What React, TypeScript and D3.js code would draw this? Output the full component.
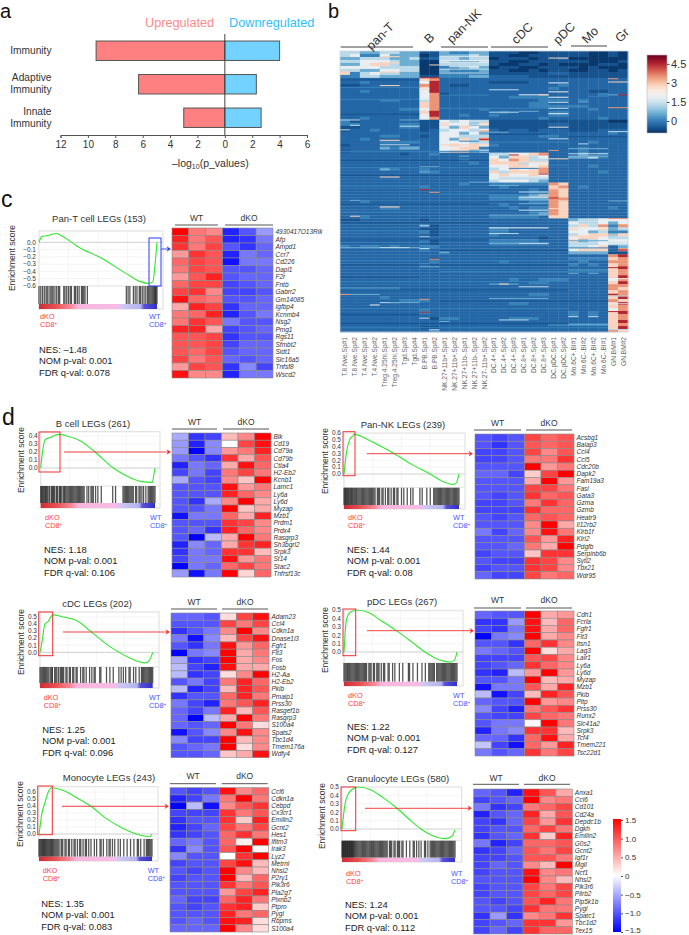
import React, { useEffect, useRef } from 'react';
import * as d3 from 'd3';

const FONT = '"Liberation Sans", Arial, sans-serif';

// panel a
const immunityLabels = [['Immunity'], ['Adaptive', 'Immunity'], ['Innate', 'Immunity']];
const upregulated = [9.4, 6.3, 3.0];
const downregulated = [4.0, 2.3, 2.65];
const pValueTicks = [12, 10, 8, 6, 4, 2, 0, -2, -4, -6];

// panel b
const sampleLabels = [
  'T.8.Nve.Sp#1', 'T.8.Nve.Sp#2', 'T.4.Nve.Sp#1', 'T.4.Nve.Sp#2', 'Treg.4.25hi.Sp#1', 'Treg.4.25hi.Sp#2', 'Tgd.Sp#3', 'Tgd.Sp#4',
  'B.PB.Sp#1', 'B.PB.Sp#2',
  'NK.27+11b+.Sp#1', 'NK.27+11b+.Sp#2', 'NK.27+11b-.Sp#1', 'NK.27+11b-.Sp#2', 'NK.27-11b+.Sp#2',
  'DC.4+.Sp#1', 'DC.4+.Sp#2', 'DC.4+.Sp#3', 'DC.8+.Sp#1', 'DC.8+.Sp#2', 'DC.8+.Sp#3',
  'DC.pDC.Sp#1', 'DC.pDC.Sp#2',
  'Mo.6C+.BI#1', 'Mo.6C-.BI#2', 'Mo.6C+.BI#2', 'Mo.6C-.BI#1',
  'GN.BM#1', 'GN.BM#2',
];
// one character per cell, index into expressionLevels
const expressionLevels = [-0.85, -0.55, -0.3, 0.05, 0.6, 1.3, 1.9, 2.8, 3.5, 4.5];
const expressionRows = [
  '55445544 11 43344 111001 11 1100 10',
  '56336444 01 44454 110011 11 1100 10',
  '44555445 12 55455 011101 12 0000 00',
  '55666544 00 54445 110011 11 1100 01',
  '44677544 00 55555 100110 10 0001 10',
  '66665555 00 33454 011001 11 1010 00',
  '55446655 00 43334 110010 11 0011 01',
  '73565544 00 33333 111111 22 1111 11',
  '33554444 11 33344 222211 11 1111 11',
  '22222222 78 22222 222222 22 2222 22',
  '22322222 69 22222 111122 22 2222 22',
  '11222222 89 21122 222222 23 2222 22',
  '22222222 79 22222 222222 32 2222 22',
  '22322222 69 22222 222222 22 2211 22',
  '22222222 68 12222 222222 22 2223 22',
  '22222222 68 22222 223333 22 2222 22',
  '22223322 58 22222 222223 33 2322 22',
  '22222222 78 22222 222233 22 2222 22',
  '22222222 78 22222 222233 33 3322 22',
  '22222233 68 22223 222222 22 2232 22',
  '22222222 79 22222 232222 33 2222 22',
  '22222222 69 22322 322222 33 2222 22',
  '22322222 68 22222 222223 22 2223 22',
  '31222222 11 65655 111111 11 1111 00',
  '33222233 11 76647 111111 22 1111 11',
  '11222233 11 64764 111111 11 1111 11',
  '12232222 12 56656 212212 22 1112 22',
  '22222222 22 66464 222222 22 2222 32',
  '22223322 12 66555 222223 32 2222 22',
  '22322222 22 64758 222222 22 2222 22',
  '22223333 22 66655 222222 22 2232 22',
  '12222222 22 67676 322222 22 2222 22',
  '22224344 22 66773 222222 22 2322 22',
  '12222222 22 67745 222222 22 2322 22',
  '22222212 23 22222 556678 22 2423 22',
  '22222222 22 22222 647756 22 4453 22',
  '22222222 22 22322 768755 22 2222 22',
  '22222222 22 22232 777566 22 2222 22',
  '22222222 11 22222 667767 22 2232 22',
  '22224322 32 22222 567678 22 2222 22',
  '22222222 33 22222 757778 22 2223 22',
  '22222222 22 22222 676676 22 2222 22',
  '22222222 22 22222 655555 22 2222 22',
  '22222222 22 22222 566654 22 2222 22',
  '22222222 22 22322 333333 87 2222 22',
  '22222222 32 22222 232222 78 2322 22',
  '22222222 22 22222 222232 87 2222 22',
  '22222222 22 22222 222233 87 2222 22',
  '22222222 22 22222 333344 87 2222 22',
  '22222222 22 22222 333444 88 2222 22',
  '22322222 22 22222 222233 87 2222 22',
  '22222222 22 22222 232222 87 2222 22',
  '22223322 22 22222 223233 87 2222 32',
  '22222222 22 22222 222233 87 2222 22',
  '22222222 22 22222 222234 87 2222 22',
  '22322222 22 22222 333332 77 2222 22',
  '11222222 12 22222 222222 22 4556 66',
  '22222222 22 22222 222222 22 6556 46',
  '22222222 31 22222 222222 22 5758 38',
  '22222222 11 22222 332222 22 7667 45',
  '22222222 31 22222 332222 22 6645 33',
  '22222222 21 22222 322222 22 5677 47',
  '22222222 12 22222 222221 22 6776 55',
  '22222222 31 22222 333332 22 7456 66',
  '22222222 21 22222 333333 22 5556 55',
  '32332322 33 22222 222222 22 5567 24',
  '22222222 32 22222 222222 22 6777 28',
  '22222222 22 32222 222222 22 4444 11',
  '22222222 22 22222 222222 22 2222 89',
  '22222222 21 22222 222222 22 3333 78',
  '22222222 23 22222 232222 22 2322 88',
  '22222222 32 22222 222222 22 3232 78',
  '22222222 22 22222 222222 22 2222 79',
  '22222222 22 22222 222222 22 3333 78',
  '22222222 22 22222 222222 22 2222 78',
  '22222222 22 22222 222222 22 2222 79',
  '22222222 22 22222 223223 33 2222 68',
  '22222222 22 22222 222233 22 2222 79',
  '22222222 22 22222 222222 22 2222 88',
  '33333322 22 22222 222222 22 2222 87',
  '22222222 22 22222 222222 22 2222 78',
  '22222222 22 22222 222233 22 2222 88',
  '22223222 22 22222 222222 22 2222 79',
  '22222233 32 22222 222222 22 2222 87',
  '22222222 22 22222 223322 22 2222 79',
  '22222222 22 22222 222222 22 2222 78',
  '22222222 32 22222 222222 22 2222 68',
  '22222222 32 22222 222222 22 3232 79',
  '22222222 22 22222 222222 22 3232 78',
  '22222222 21 33222 223332 22 2222 78',
  '22222222 22 22222 222222 22 2222 79',
  '22222222 22 22222 222222 33 3333 78',
  '22222222 11 22222 222222 22 2222 79',
  '22222222 23 22222 222222 22 2222 87',
];
// faint background stripes: [row position, first column, last column, level]
const expressionShades = [
  [9.5, 0, 7, 1], [12, 0, 7, 3], [14.6, 10, 14, 3], [16, 0, 7, 3], [19, 10, 20, 3], [21, 0, 7, 1], [23.4, 8, 9, 1], [27.7, 15, 20, 1],
  [28.5, 23, 28, 1], [30.3, 15, 22, 3], [33.4, 0, 14, 3], [36.4, 0, 14, 1], [38.9, 0, 14, 3], [41.4, 0, 14, 1], [45, 0, 7, 3], [47.7, 10, 14, 3],
  [51, 0, 14, 1], [53.7, 0, 7, 3], [57.3, 0, 14, 1], [60, 0, 7, 3], [63, 0, 14, 1], [66.6, 10, 22, 1], [70, 0, 22, 3], [71.4, 0, 22, 1],
  [73.6, 10, 26, 3], [75.5, 0, 7, 1], [77, 0, 22, 3], [79.8, 0, 22, 1], [83.5, 10, 26, 1], [86, 0, 22, 3], [88, 0, 7, 1], [91, 0, 22, 1], [92.4, 0, 26, 3],
];
// thin single-gene streaks: [row position, first column, last column, level]
const expressionStreaks = [
  [1.6, 10, 14, 6], [3, 10, 14, 6], [3.6, 10, 14, 6], [5.1, 11, 13, 6], [5.9, 10, 14, 5], [7.2, 10, 14, 5], [1.7, 4, 5, 7], [3.8, 4, 5, 7],
  [6.8, 0, 0, 7], [6.9, 4, 5, 7], [4.5, 9, 9, 7], [2.2, 21, 22, 7],
  [10.5, 21, 22, 6], [13.5, 21, 22, 6], [15.3, 21, 22, 6], [17, 21, 22, 5], [19, 21, 22, 5], [20.8, 21, 22, 6],
  [12.8, 15, 17, 5], [14.5, 18, 20, 6], [14.5, 20, 20, 7], [20.3, 15, 17, 5], [20, 18, 19, 4],
  [9.1, 27, 27, 8], [10.2, 27, 28, 7], [14.5, 27, 27, 4], [14.5, 28, 28, 9], [18.8, 27, 28, 8], [11.4, 4, 5, 7], [16.9, 24, 24, 4], [15, 25, 26, 3],
  [22.9, 0, 1, 5], [22.9, 6, 7, 4], [24.7, 1, 1, 5], [25, 6, 7, 5], [26.2, 0, 0, 5], [29.7, 4, 5, 7], [31.2, 4, 6, 5], [32, 6, 7, 4],
  [25.3, 21, 22, 6], [29.2, 21, 22, 5], [26.8, 27, 28, 5], [30.9, 24, 24, 5], [32.5, 23, 26, 4], [27, 15, 16, 4],
  [33.1, 21, 21, 8], [35.9, 21, 22, 7], [38, 21, 22, 3], [34.2, 23, 26, 5], [35.1, 24, 26, 4], [42, 4, 5, 7], [38.4, 8, 9, 4], [40.3, 8, 8, 4], [35, 12, 12, 4], [43.7, 13, 14, 4],
  [49.8, 1, 1, 4], [52, 4, 5, 7], [55.1, 1, 1, 7], [46.2, 8, 8, 9], [47.1, 9, 9, 8],
  [44.8, 15, 17, 4], [47, 18, 20, 5], [48.7, 18, 20, 6], [50.9, 18, 20, 4], [53.1, 18, 20, 5], [54.7, 15, 20, 4], [48, 20, 20, 7], [50, 27, 28, 4],
  [55.9, 27, 28, 8], [58.1, 28, 28, 8], [61.4, 27, 28, 7], [64.2, 27, 28, 6], [66.4, 28, 28, 9], [58.3, 8, 8, 5], [62, 8, 8, 5], [65.9, 8, 8, 5],
  [59, 15, 20, 6], [60.9, 15, 17, 5], [64.2, 15, 17, 4], [64.2, 18, 20, 5], [65.6, 0, 7, 4], [65.6, 4, 5, 5], [65.6, 6, 6, 5], [67.2, 10, 10, 4],
  [74.2, 23, 23, 4], [74.2, 25, 25, 4], [88.7, 23, 23, 5], [88.7, 25, 25, 5], [91.4, 23, 26, 4],
  [69.5, 9, 9, 8], [82.9, 8, 8, 8], [87.2, 8, 8, 9], [89.2, 8, 8, 5], [93.1, 9, 9, 5], [72, 8, 9, 4],
  [77.8, 15, 17, 4], [77.8, 16, 16, 7], [78.7, 18, 20, 5], [82.6, 15, 20, 4], [89.8, 16, 18, 5],
  [81.3, 0, 0, 8], [81.3, 1, 3, 4], [84, 4, 5, 5], [84, 5, 7, 4], [84.8, 3, 3, 6], [90.3, 10, 10, 4],
  [72.3, 27, 28, 9], [76, 27, 28, 6], [81.3, 27, 27, 9], [81.8, 27, 28, 5], [84.4, 27, 28, 6], [87, 27, 28, 9], [90, 28, 28, 9], [93, 27, 28, 5],
  [8.8, 8, 9, 9], [12.5, 8, 8, 6], [13.1, 9, 9, 9], [16, 8, 8, 6], [20.2, 9, 9, 9],
  [24.3, 10, 14, 6], [26.6, 14, 14, 8], [29.4, 14, 14, 9], [30, 12, 13, 3], [31.2, 10, 14, 7],
  [34.6, 17, 17, 9], [37, 15, 20, 7], [39.1, 17, 19, 3], [41, 20, 20, 9], [42, 15, 20, 6],
  [46, 21, 22, 7], [49, 21, 21, 9], [52.5, 21, 22, 7], [59, 23, 26, 6], [61.7, 23, 26, 7], [63.3, 23, 26, 4], [65.7, 23, 26, 3],
];
const expressionTicks = [0, 1.5, 3, 4.5];

// panels c, d: leading edge genes, values for WT x3 then dKO x3
const panTGenes = ['4930417O13Rik', 'Afp', 'Ampd1', 'Ccr7', 'Cd226', 'Dapl1', 'F2r', 'Fntb', 'Gabrr2', 'Gm14085', 'Igfbp4', 'Kcnmb4', 'Nsg2', 'Pmg1', 'Rgs11', 'Sfmbt2', 'Sidt1', 'Slc16a5', 'Tnfsf8', 'Wscd2'];
const panTHeat = [
  [1.5, .8, .7, -1.3, -1, -.6], [1.3, .8, 1, -1.3, -1.2, -.8], [1.2, .8, 1.1, -1, -1.2, -.9], [.6, 1.2, 1, -1.3, -.8, -.9], [.9, 1.1, 1, -1.4, -.8, -.8],
  [.8, 1.1, 1, -1, -1, -.9], [.6, 1, 1.3, -1, -.9, -.9], [.9, 1.1, 1.1, -1.1, -1, -.9], [1.1, 1.2, .7, -1.1, -1.1, -1], [1.4, .9, .8, -1, -1, -.9],
  [.5, 1.3, 1.1, -1.2, -.9, -.9], [.8, .9, 1.3, -1.3, -1, -.8], [.8, 1.2, 1, -.8, -1, -1], [1.3, 1.3, .5, -1.1, -1, -.9], [1, 1, 1.1, -1.2, -1, -1],
  [1, 1, 1.1, -1.1, -.9, -.9], [1, .9, 1.1, -1, -.9, -.9], [1.1, .8, 1, -.9, -1, -.9], [.6, 1.1, 1, -1.2, -.7, -1.1], [1.4, .7, .7, -1.3, -.8, -.8],
];
const bCellGenes = ['Blk', 'Cd19', 'Cd79a', 'Cd79b', 'Ctla4', 'H2-Eb2', 'Kcnb1', 'Lamc1', 'Ly6a', 'Ly6d', 'Myzap', 'Mzb1', 'Prdm1', 'Prdx4', 'Rasgrp3', 'Sh3bgrl2', 'Srpk3', 'St14', 'Stac2', 'Tnfrsf13c'];
const bCellHeat = [
  [-.5, -1.2, -1.1, .4, .7, 1.5], [-.6, -1.3, -.7, 0, 1.1, 1.4], [-.6, -1.5, -.7, .6, .8, 1.3], [-.8, -1, -1.2, 1.2, .5, 1], [-1.3, -.8, -.9, .5, 1.4, .9],
  [-1.1, -.8, -1.1, .8, 1.1, .8], [-.5, -1, -1.1, .7, .35, 1.5], [-1, -1, -1, 1.4, .6, .8], [-1, -1, -1, 1.3, .9, .7], [-1, -1.2, -.5, .7, 1.5, .5],
  [-1, -1, -.8, 1.5, .35, .5], [-1.4, -.8, -.8, .9, .5, 1.3], [-1, -1, -1, 1.2, 1.1, .7], [-1, -.9, -1.2, 1.3, .9, .7], [-1, -1.5, -.4, .5, 1.5, .8],
  [-1.3, -.7, -.9, .5, 1.2, 1.3], [-1.2, -.8, -.9, 1.2, 1.2, .4], [-1.1, -.8, -.8, 1.4, .6, .8], [-1.5, -.8, -.9, .9, 1.1, .8], [-.6, -1.4, -.8, 1.5, .25, .9],
];
const panNkGenes = ['Acsbg1', 'Baiap3', 'Ccl4', 'Ccl5', 'Cdc20b', 'Dapk2', 'Fam19a3', 'Fasl', 'Gata3', 'Gzma', 'Gzmb', 'Heatr9', 'Il12rb2', 'Klrb1f', 'Klri2', 'Pdgfb', 'Serpinb6b', 'Sytl2', 'Tbx21', 'Wdr95'];
const panNkHeat = [
  [-1, -1.1, -1, 1.1, .9, 1], [-1, -1.2, -1, 1, .9, 1], [-1.1, -1.1, -1, 1.1, .7, 1], [-1.1, -1.1, -1, .8, .8, 1.2], [-1, -1, -1, 1.5, .6, .8],
  [-.9, -.9, -1.1, .3, 1.1, 1.5], [-1, -1, -1, .5, 1.5, .6], [-1, -1, -1, 1.1, 1.1, .8], [-1, -1.1, -1, 1.2, .9, 1], [-1.1, -1.1, -1, .8, 1.2, .9],
  [-1.1, -1.1, -1.1, 1.2, .9, .9], [-1, -1.1, -1, .9, 1, .9], [-1, -1, -1, .7, 1.5, .5], [-.8, -1.1, -.9, .7, 1.4, .8], [-1, -1, -1, 1, .6, 1.3],
  [-1, -1, -.9, .8, .5, 1.5], [-1.1, -1, -1, .35, 1.2, 1.2], [-1, -1.1, -1.1, 1.2, 1.1, .7], [-1.1, -1, -1, 1.2, 1.1, .7], [-.9, -1.1, -1.1, 1.1, .8, .9],
];
const cdcGenes = ['Adam23', 'Ccl4', 'Cdkn1a', 'Dnase1l3', 'Fgfr1', 'Flt3', 'Fos', 'Fosb', 'H2-Aa', 'H2-Eb2', 'Pkib', 'Pmaip1', 'Prss30', 'Rasgef1b', 'Rasgrp3', 'S100a4', 'Spats2', 'Tbc1d4', 'Tmem176a', 'Wdfy4'];
const cdcHeat = [
  [-.9, -.9, -1, .2, 1.1, 1.4], [-1, -1, -1, 1.1, .8, 1.1], [-1.2, -1, -.8, .7, 1.5, .7], [-.8, -1.4, -.7, .4, 1.1, 1.4], [-1, -1.2, -.8, 1.4, .6, .9],
  [-1.5, -.8, -.7, 1.5, .5, .8], [-.5, -1.2, -1.1, 1.5, .5, .7], [-.4, -1.1, -1.3, 1.4, .5, .5], [-.4, -1.2, -1.1, .2, .7, 1.5], [-1, -.8, -1.1, .8, 1.3, .9],
  [-.4, -1.3, -1.1, .4, 1.3, 1], [-1.2, -1, -1, .9, 1.3, .8], [-.8, -1.1, -1.3, .8, 1, 1.3], [-.9, -1.1, -.8, 1.3, .4, 1], [-.9, -1.5, -.4, .5, 1.5, .8],
  [-.9, -1, -.9, 1.5, .8, .2], [-1.4, -1, -.7, .7, 1.4, .7], [-.7, -1.1, -1.1, 1.5, .4, .7], [-1, -.9, -.8, 1.5, .2, .7], [-1, -1, -.9, .35, .5, 1.4],
];
const pdcGenes = ['Cdh1', 'Fcrla', 'Fgfr1', 'Flt3', 'Itsn1', 'Lag3', 'Lair1', 'Ly6a', 'Ly6d', 'Myzap', 'Mzb1', 'Pkib', 'Pltp', 'Prss30', 'Runx2', 'Slc41a2', 'Srpk3', 'Tcf4', 'Tmem221', 'Tsc22d1'];
const pdcHeat = [
  [-.9, -1, -1, 1.5, .5, .6], [-1.2, -1.2, -.6, 1.4, .4, .9], [-1.1, -1.2, -.8, 1.4, .5, .9], [-1.5, -.8, -.7, 1.5, .5, .7], [-1, -1, -1.2, .9, 1.2, .7],
  [-.8, -.9, -1, 1.5, .2, .5], [-1.1, -1.1, -1.1, 1, 1.1, .7], [-1.1, -1, -.9, 1.2, .9, .7], [-1.2, -1.3, -.4, .6, 1.5, .6], [-1, -1, -.8, 1.5, .4, .5],
  [-1.4, -.8, -.8, 1, .5, 1.3], [-.4, -1.4, -1.1, .4, 1.3, 1], [-.9, -1, -1, 1.5, .6, .7], [-.7, -1.1, -1.3, .8, 1, 1.2], [-1, -1.1, -1.1, 1.1, .9, .8],
  [-1, -.8, -.8, .05, 1.5, .8], [-1.3, -.8, -.7, 1.2, 1.2, .4], [-.9, -.9, -1.2, .9, 1.4, .5], [-.35, -1.1, -1.4, .9, .6, 1.3], [-.8, -1, -.9, 1.2, .8, 1.1],
];
const monoGenes = ['Ccl6', 'Cdkn1a', 'Cebpd', 'Cx3cr1', 'Emilin2', 'Gcnt2', 'Hes1', 'Ifitm3', 'Irak3', 'Lyz2', 'Metrnl', 'Nhsl2', 'P2ry1', 'Pik3r6', 'Pla2g7', 'Plxnb2', 'Ptpro', 'Pygl', 'Rbpms', 'S100a4'];
const monoHeat = [
  [-1, -1.1, -1, 1.4, .7, .9], [-1.3, -1.1, -.8, .8, 1.5, .8], [-1.5, -.4, -1.4, .7, 1, 1.2], [-1.1, -1.1, -1.1, 1.2, .8, 1], [-1.2, -1, -1, 1.2, .3, 1.3],
  [-1.3, -1.1, -.9, 1.1, .8, 1.1], [-1.2, -1.1, -1, .9, 1.2, .8], [-.9, -.8, -1, .9, .1, 1.5], [-1.2, -.7, -1, 1, 1.5, .05], [-.7, -1, -1, 0, 1.2, 1.5],
  [-1.1, -1, -1, 1.1, 1.4, .4], [-1, -1.1, -1, 1.5, .7, .4], [-1.1, -1, -1, 1.5, .4, .9], [-1, -1, -1, 1.2, .8, 1], [-1, -1, -1, .6, 1.1, 1.3],
  [-.9, -1.1, -1.1, .9, 1.3, .8], [-1, -1.1, -1, 1.2, 1.3, .3], [-1, -1, -1, 1.3, .8, .9], [-1, -.9, -1, 1.4, 1.3, .2], [-.9, -.9, -.9, 1.5, .7, .2],
];
const granGenes = ['Anxa1', 'Ccl6', 'Cd101', 'Cd24a', 'Depdc1b', 'Dgkh', 'Emilin2', 'G0s2', 'Gcnt2', 'Igf1r', 'Mgll', 'Ncf1', 'Nhsl2', 'Pik3r6', 'Pilrb2', 'Pip5k1b', 'Pygl', 'Spatc1', 'Tbc1d2', 'Tex15'];
const granHeat = [
  [-.9, -1, -1.3, 1.4, 1, .5], [-1.1, -1, -.9, 1.5, .7, .8], [-.8, -1.2, -1.1, .8, .9, 1.1], [-1.3, -1, -.9, 1.3, .5, 1], [-1.1, -1.2, -.9, 1.1, .6, 1.2],
  [-1.1, -1, -1, .9, 1.1, .8], [-1.2, -1, -.9, 1.2, .3, 1.3], [-.8, -1.3, -1.1, .9, .9, 1], [-1.2, -1.1, -.9, 1, .8, 1.1], [-1.1, -1.1, -1, 1, 1, .8],
  [-1.1, -.9, -1, .7, .4, 1.5], [-1.1, -1, -1, 1.4, .7, .8], [-1, -1, -1, 1.5, .7, .4], [-1.1, -1, -1, 1.1, .8, 1.1], [-1.1, -1, -1, 1.1, .9, 1.1],
  [-1, -1.1, -1, 1, 1.3, .8], [-1, -1, -1.1, 1.2, .8, .8], [-1.2, -.6, -1.2, .7, .8, 1.2], [-1.1, -1, -.9, 1.2, 1.2, .6], [-1.1, -.9, -1.1, 1.2, .9, .9],
];
const heatTicks = [1.5, 1, 0.5, 0, -0.5, -1, -1.5];

// running enrichment score: [rank %, ES]
const panTCurve = [[0, 0], [2.3, .078], [6.5, .09], [12, .115], [15, .12], [19, .09], [26, .02], [32, -.05], [52, -.21], [74, -.43], [86, -.54], [93, -.565], [96.6, -.54], [98, -.36], [100, 0]];
const bCellCurve = [[0, 0], [2.3, .27], [4.4, .36], [8.2, .38], [12.5, .41], [16.9, .42], [22.7, .4], [34.4, .34], [47.5, .2], [63.6, 0], [75.2, -.1], [88.3, -.17], [97.7, -.18], [98.8, -.1], [100, 0]];
const panNkCurve = [[0, 0], [1, .15], [2.5, .35], [5, .5], [8, .56], [8.7, .58], [18.3, .52], [29.9, .42], [43.8, .295], [58.8, .14], [74.8, 0], [84.9, -.1], [95, -.15], [98, -.12], [99.4, -.04], [100, 0]];
const cdcCurve = [[0, 0], [1.5, .12], [4.4, .4], [7.4, .44], [10.4, .52], [11.8, .53], [20.7, .5], [32.5, .45], [45.9, .283], [62.1, .08], [78.4, -.07], [93.2, -.15], [96.7, -.12], [100, 0]];
const pdcCurve = [[0, 0], [.9, .2], [2.4, .4], [5.3, .47], [11.2, .5], [21.5, .47], [33.3, .37], [45.7, .26], [59.9, .12], [71.7, 0], [83.5, -.09], [93.8, -.12], [97.6, -.1], [100, 0]];
const monoCurve = [[0, 0], [.9, .1], [2.4, .28], [5.3, .45], [8.2, .6], [11.2, .66], [21.5, .62], [33.3, .52], [45.6, .4], [59.7, .22], [74.4, .08], [86.2, 0], [97.9, -.04], [100, 0]];
const granCurve = [[0, 0], [2.7, .3], [5.6, .42], [10, .48], [14.4, .5], [24.8, .47], [36.6, .37], [48.4, .25], [61.6, .09], [69.9, 0], [78.8, -.07], [91.2, -.115], [97, -.09], [100, -.01]];

// gene hit ranks along the ordered list
const panTHits = [0, 1.5, 3, 4.5, 6, 7, 8.5, 10, 11, 12, 13.5, 15, 16.5, 17.5, 21, 22, 23.5, 25, 26.5, 27.5, 30, 31, 32.5, 34, 36, 37, 38, 39, 41, 74, 75.5, 77, 80, 81.5, 83, 85, 86, 87.5, 89, 90.5, 92, 93, 94, 95, 96, 97, 98, 98.6, 99.2, 100];
const bCellHits = [0, .8, 1.6, 2.5, 3.5, 4.2, 5, 6, 7.2, 8, 9.5, 10.3, 11.2, 12, 13.5, 14.2, 15, 16.5, 17.2, 18, 19.5, 20.3, 21, 22, 23, 24, 25, 26, 27, 28, 29, 30, 31, 32, 33, 34, 35, 36, 37, 38, 40.5, 42, 44, 45, 46, 48, 50, 53, 63, 65.5, 72, 73, 74, 75, 76, 77, 78, 79, 80, 81, 83, 84, 86, 87, 88.5, 90, 92, 94, 95, 96, 97, 98, 99, 100];
const panNkHits = [0, .7, 1.4, 2.1, 3, 3.8, 4.6, 5.5, 6.4, 7.2, 8, 9, 10, 11, 12, 13, 14, 15, 16, 17, 18, 19, 20, 21, 22, 23, 24, 25, 26, 27, 29, 30, 31, 33, 34, 36, 38, 39, 41, 43, 44, 46, 47, 50, 52, 55, 58, 60, 66, 68, 72, 75, 78, 79, 80, 81, 82, 83, 84, 85, 86, 87, 88, 89, 90, 91, 92, 93, 94, 95, 96, 97, 98, 99, 100];
const cdcHits = [0, 1, 2, 3, 4, 5, 6, 7, 8, 9.5, 10.5, 11, 13, 14, 15, 16.5, 18, 19, 20, 21, 23, 24, 26, 27, 29, 30, 32, 33, 36, 38, 39, 41, 44, 46, 48, 49, 53, 54, 59, 62, 65, 70, 72, 74, 76, 79, 80, 83, 85, 88, 90, 91, 92, 93, 94, 95, 96, 97, 98, 99, 100];
const pdcHits = [0, 1, 2, 3, 4, 5, 6, 7, 8, 9, 10, 11, 12, 13, 14, 15, 16, 17, 18, 19, 20, 22, 23, 24, 26, 27, 29, 30, 31, 33, 35, 36, 39, 40, 43, 45, 49, 52, 57, 58, 61, 65, 69, 72, 75, 76, 77, 78, 79, 80, 82, 83, 84, 85, 86, 87, 88, 89, 90, 91, 92, 93, 94, 95, 96, 97, 98, 99, 100];
const monoHits = [0, .8, 1.6, 2.4, 3.2, 4, 4.8, 5.6, 6.4, 7.2, 8, 8.8, 9.6, 10.4, 11.2, 12, 13, 14, 15, 16, 17, 18.5, 20, 21, 23, 24, 26, 27, 29, 31, 32, 34, 36, 37, 39, 41, 42, 44, 46, 49, 51, 54, 55, 57, 60, 62, 63, 65, 67, 70, 72, 75, 78, 81, 84, 87, 88, 90, 93, 95, 96, 97, 98, 99, 100];
const granHits = [0, .6, 1.2, 1.8, 2.4, 3, 3.6, 4.2, 4.8, 5.4, 6, 6.6, 7.2, 7.8, 8.4, 9, 9.6, 10.2, 11, 12, 13, 14, 15, 16, 17, 18, 19, 20, 21, 22, 23, 24, 25, 26, 27, 28, 29, 30, 31, 32, 33, 34, 35, 36, 37, 38, 39, 40, 42, 43, 44, 46, 47, 49, 50, 51, 53, 54, 57, 60, 63, 64, 66, 68, 70, 73, 74, 76, 78, 79, 80, 81, 82, 83, 84, 85, 86, 87, 88, 89, 90, 91, 92, 93, 94, 95, 96, 97, 98, 99, 100];

const stripStops = [
  [0, '#d02c36'], [.14, '#e85052'], [.27, '#f48a98'], [.33, '#f7b5dd'], [.66, '#f7bce6'], [.7, '#cfc8f2'], [.86, '#b4b4ee'], [.89, '#5a50d8'], [1, '#3230c8'],
];

// layout of the seven GSEA panels
const gseaPanels = [
  { id: 'panT', title: 'Pan-T cell LEGs (153)', titleX: 99, titleY: 222, frame: [39, 231, 163, 286], rankX: [39, 157], barY: [286, 304, 309], es: [0, -.6], esY: [242.3, 286], ticks: [0, -.1, -.2, -.3, -.4, -.5, -.6], labelX: 15, labelY: 258, curve: panTCurve, hits: panTHits, genes: panTGenes, heat: panTHeat, box: [149, 238, 161, 286], boxColor: '#2a3cff', arrow: [161, 171, 249], dkoX: 40, dkoY: 319, wtX: 149, nesX: 39, nesY: 353, stats: ['NES: –1.48', 'NOM p-val: 0.001', 'FDR q-val: 0.078'], heatBox: [172, 228, 273, 378], headY: 221, bracketY: 225, wtBr: [175, 218], koBr: [225, 273] },
  { id: 'bCell', title: 'B cell LEGs (261)', titleX: 93, titleY: 427, frame: [40.7, 431.7, 160, 486], rankX: [40.7, 155], barY: [486, 503, 508], es: [.4, 0], esY: [436, 468], ticks: [.4, .3, .2, .1, 0], labelX: 24, labelY: 460, curve: bCellCurve, hits: bCellHits, genes: bCellGenes, heat: bCellHeat, box: [39, 432, 60, 472], boxColor: '#f03030', arrow: [64, 171, 452], dkoX: 45, dkoY: 520, wtX: 150, nesX: 44, nesY: 553, stats: ['NES: 1.18', 'NOM p-val: 0.001', 'FDR q-val: 0.106'], heatBox: [172, 433, 271, 577], headY: 425, bracketY: 429, wtBr: [172, 217], koBr: [223, 269] },
  { id: 'panNk', title: 'Pan-NK LEGs (239)', titleX: 403, titleY: 428, frame: [344, 433, 465, 487.7], rankX: [344, 459], barY: [487.7, 505, 509], es: [.6, 0], esY: [432.7, 474], ticks: [.6, .5, .4, .3, .2, .1, 0], labelX: 328, labelY: 461, curve: panNkCurve, hits: panNkHits, genes: panNkGenes, heat: panNkHeat, box: [343, 431.7, 355, 475.7], boxColor: '#f03030', arrow: [367, 473, 453.7], dkoX: 348, dkoY: 520, wtX: 453, nesX: 347, nesY: 553, stats: ['NES: 1.44', 'NOM p-val: 0.001', 'FDR q-val: 0.08'], heatBox: [475, 434, 574, 579], headY: 426, bracketY: 430, wtBr: [474, 521], koBr: [526, 572] },
  { id: 'cdc', title: 'cDC LEGs (202)', titleX: 97, titleY: 607, frame: [40, 612, 159, 667], rankX: [40, 152.7], barY: [667, 683, 688], es: [.5, 0], esY: [617, 652.3], ticks: [.5, .4, .3, .2, .1, 0], labelX: 24, labelY: 642, curve: cdcCurve, hits: cdcHits, genes: cdcGenes, heat: cdcHeat, box: [38.7, 612, 52.7, 655.7], boxColor: '#f03030', arrow: [63, 170, 632], dkoX: 43.7, dkoY: 700, wtX: 149, nesX: 42.3, nesY: 732.7, stats: ['NES: 1.25', 'NOM p-val: 0.001', 'FDR q-val: 0.096'], heatBox: [171, 613, 269, 757.7], headY: 605, bracketY: 609, wtBr: [171, 217], koBr: [222, 268] },
  { id: 'pdc', title: 'pDC LEGs (267)', titleX: 402, titleY: 605, frame: [344, 610.7, 463, 663], rankX: [344, 457], barY: [663, 681.7, 686], es: [.5, 0], esY: [610, 652], ticks: [.5, .4, .3, .2, .1, 0], labelX: 328, labelY: 640, curve: pdcCurve, hits: pdcHits, genes: pdcGenes, heat: pdcHeat, box: [343, 609, 355.7, 655.7], boxColor: '#f03030', arrow: [367, 474, 630.7], dkoX: 348, dkoY: 698, wtX: 453, nesX: 347, nesY: 730, stats: ['NES: 1.22', 'NOM p-val: 0.001', 'FDR q-val: 0.127'], heatBox: [475, 611, 574, 756], headY: 603, bracketY: 608, wtBr: [474, 521], koBr: [526, 572] },
  { id: 'mono', title: 'Monocyte LEGs (243)', titleX: 109, titleY: 781, frame: [39, 786.7, 158, 839], rankX: [39, 152], barY: [839, 856.7, 861], es: [.6, 0], esY: [792, 834], ticks: [.6, .5, .4, .3, .2, .1, 0], labelX: 23, labelY: 814, curve: monoCurve, hits: monoHits, genes: monoGenes, heat: monoHeat, box: [37.7, 786, 52.3, 834.7], boxColor: '#f03030', arrow: [62, 169, 806.3], dkoX: 42.7, dkoY: 873, wtX: 147.7, nesX: 41.3, nesY: 906.7, stats: ['NES: 1.35', 'NOM p-val: 0.001', 'FDR q-val: 0.083'], heatBox: [170, 787.7, 268.7, 932], headY: 779, bracketY: 783.7, wtBr: [170, 216], koBr: [221.7, 267.7] },
  { id: 'gran', title: 'Granulocyte LEGs (580)', titleX: 398, titleY: 782, frame: [342, 787, 461.7, 840.7], rankX: [342, 455], barY: [840.7, 857.7, 862], es: [.5, 0], esY: [787, 829], ticks: [.5, .4, .3, .2, .1, 0], labelX: 325, labelY: 816, curve: granCurve, hits: granHits, genes: granGenes, heat: granHeat, box: [341, 787, 355.7, 830.7], boxColor: '#f03030', arrow: [365, 472, 808.3], dkoX: 346, dkoY: 875.7, wtX: 451, nesX: 345, nesY: 908, stats: ['NES: 1.24', 'NOM p-val: 0.001', 'FDR q-val: 0.112'], heatBox: [473.7, 789, 572.3, 934], headY: 780.7, bracketY: 784.3, wtBr: [473, 519], koBr: [524, 570] },
];

type Sel = d3.Selection<any, unknown, null, undefined>;

function label(g: Sel, x: number, y: number, s: string, size: number, fill = '#333', anchor = 'start') {
  return g.append('text')
    .attr('x', x).attr('y', y)
    .attr('font-size', size)
    .attr('fill', fill)
    .attr('text-anchor', anchor)
    .text(s);
}

function drawImmunity(svg: Sel) {
  const g = svg.append('g');
  const x = d3.scaleLinear().domain([12, -6]).range([60.5, 307]);
  const y = d3.scaleBand().domain(d3.range(3).map(String)).range([34, 134.5]).paddingInner(.42).paddingOuter(.21);

  immunityLabels.forEach((lines, i) => {
    const cy = y(String(i))! + y.bandwidth() / 2;
    lines.forEach((s, j) => {
      const off = lines.length === 1 ? 3.5 : j === 0 ? -3 : 9;
      label(g, 51.5, cy + off, s, 10.2, '#333', 'end');
    });
  });

  const bars = (vals: number[], sign: number, fill: string) =>
    g.append('g').selectAll('rect').data(vals).join('rect')
      .attr('x', d => Math.min(x(0), x(d * sign)))
      .attr('y', (_, i) => y(String(i))!)
      .attr('width', d => Math.abs(x(d * sign) - x(0)))
      .attr('height', y.bandwidth())
      .attr('fill', fill)
      .attr('stroke', '#555')
      .attr('stroke-width', 1);
  bars(upregulated, 1, '#ff8080');
  bars(downregulated, -1, '#73d2ff');

  g.append('line').attr('x1', x(0)).attr('x2', x(0)).attr('y1', 34).attr('y2', 135).attr('stroke', '#444').attr('stroke-width', 1);

  const axis = g.append('g').attr('transform', 'translate(0,135)')
    .call(d3.axisBottom(x).tickValues(pValueTicks).tickSize(3).tickFormat(d => String(Math.abs(+d))) as any);
  axis.selectAll('path,line').attr('stroke', '#555');
  axis.selectAll('text').attr('font-size', 10).attr('font-family', FONT).attr('fill', '#333');

  const t = label(g, 172, 167, '–log', 10.5);
  t.append('tspan').attr('font-size', 7).attr('dy', 2).text('10');
  t.append('tspan').attr('dy', -2).text('(p_values)');
  label(g, 145, 27, 'Upregulated', 12.7, '#ff8a8a');
  label(g, 229, 27, 'Downregulated', 12.7, '#2fbfff');
}

function drawExpression(svg: Sel) {
  const g = svg.append('g');
  const matrix = expressionRows.map(r => r.replace(/ /g, '').split('').map(c => expressionLevels[+c]));
  const x = d3.scaleBand().domain(d3.range(sampleLabels.length).map(String)).range([340, 628]);
  const y = d3.scaleBand().domain(d3.range(matrix.length).map(String)).range([51, 332]);
  const rowPos = d3.scaleLinear().domain([0, matrix.length]).range([51, 332]);
  const colour = d3.scaleSequential(d3.interpolateRdBu).domain([5.2, -0.95]);

  matrix.forEach((row, i) => {
    g.append('g').selectAll('rect').data(row).join('rect')
      .attr('x', (_, j) => x(String(j))!)
      .attr('y', y(String(i))!)
      .attr('width', x.bandwidth() + .3)
      .attr('height', y.bandwidth() + .3)
      .attr('fill', d => colour(d));
  });

  const stripes = (list: number[][], h: number) =>
    g.append('g').selectAll('rect').data(list).join('rect')
      .attr('x', d => x(String(d[1]))!)
      .attr('y', d => rowPos(d[0]))
      .attr('width', d => (d[2] - d[1] + 1) * x.bandwidth())
      .attr('height', h)
      .attr('fill', d => colour(expressionLevels[d[3]]));
  stripes(expressionShades, 1);
  stripes(expressionStreaks, 1);

  g.append('rect').attr('x', 340).attr('y', 51).attr('width', 288).attr('height', 281).attr('fill', 'none').attr('stroke', '#cfd8e0').attr('stroke-width', .8);

  g.append('g').selectAll('text').data(sampleLabels).join('text')
    .attr('transform', (_, i) => `translate(${x(String(i))! + x.bandwidth() / 2 + 2.5},337) rotate(-90)`)
    .attr('text-anchor', 'end')
    .attr('font-size', 6.6)
    .attr('fill', '#666')
    .text(d => d);

  const groups = [
    { s: 'pan-T', x1: 340.7, x2: 413, y: 47, lx: 380, ly: 36 },
    { s: 'B', x1: 0, x2: 0, y: 0, lx: 429, ly: 38 },
    { s: 'pan-NK', x1: 441, x2: 488, y: 47, lx: 464, ly: 26 },
    { s: 'cDC', x1: 491, x2: 548, y: 47, lx: 522, ly: 33 },
    { s: 'pDC', x1: 0, x2: 0, y: 0, lx: 564, ly: 33 },
    { s: 'Mo', x1: 571, x2: 607, y: 46, lx: 590, ly: 35 },
    { s: 'Gr', x1: 0, x2: 0, y: 0, lx: 622, ly: 35 },
  ];
  groups.forEach(d => {
    if (d.x2 > 0) g.append('line').attr('x1', d.x1).attr('x2', d.x2).attr('y1', d.y).attr('y2', d.y).attr('stroke', '#444').attr('stroke-width', 1);
    g.append('text')
      .attr('transform', `translate(${d.lx},${d.ly}) rotate(-45)`)
      .attr('text-anchor', 'middle')
      .attr('dy', '.35em')
      .attr('font-size', 12.5)
      .attr('fill', '#333')
      .text(d.s);
  });

  // colour key
  const key = d3.scaleLinear().domain([-0.95, 5.2]).range([133, 55]);
  const defs = svg.append('defs');
  const grad = defs.append('linearGradient').attr('id', 'expr-key').attr('x1', 0).attr('x2', 0).attr('y1', 1).attr('y2', 0);
  d3.range(0, 1.001, .05).forEach(t => {
    const v = -0.95 + t * 6.15;
    grad.append('stop').attr('offset', t).attr('stop-color', colour(v));
  });
  g.append('rect').attr('x', 647).attr('y', 55).attr('width', 20).attr('height', 78).attr('fill', 'url(#expr-key)').attr('stroke', '#bbb').attr('stroke-width', .6);
  const axis = g.append('g').attr('transform', 'translate(667,0)')
    .call(d3.axisRight(key).tickValues(expressionTicks).tickSize(2.5).tickFormat(d => String(d)) as any);
  axis.select('.domain').remove();
  axis.selectAll('line').attr('stroke', '#444');
  axis.selectAll('text').attr('font-size', 11).attr('font-family', FONT).attr('fill', '#333').attr('x', 4);
}

function drawHeat(g: Sel, p: any, colour: (v: number) => string) {
  const [x0, y0, x1, y1] = p.heatBox;
  const x = d3.scaleBand().domain(d3.range(6).map(String)).range([x0, x1]);
  const y = d3.scaleBand().domain(p.genes).range([y0, y1]);

  (p.heat as number[][]).forEach((row, i) => {
    g.append('g').selectAll('rect').data(row).join('rect')
      .attr('x', (_, j) => x(String(j))!)
      .attr('y', y(p.genes[i])!)
      .attr('width', x.bandwidth())
      .attr('height', y.bandwidth())
      .attr('fill', d => colour(d))
      .attr('stroke', '#8a8a8a')
      .attr('stroke-width', .6);
  });

  g.append('g').selectAll('text').data(p.genes as string[]).join('text')
    .attr('x', x1 + 2.5)
    .attr('y', d => y(d)! + y.bandwidth() / 2 + 2.3)
    .attr('font-size', 6.5)
    .attr('font-style', 'italic')
    .attr('fill', '#333')
    .text(d => d);

  const head = (s: string, br: number[]) => {
    g.append('line').attr('x1', br[0]).attr('x2', br[1]).attr('y1', p.bracketY).attr('y2', p.bracketY).attr('stroke', '#555').attr('stroke-width', 1);
    label(g, (br[0] + br[1]) / 2, p.headY, s, 8.5, '#333', 'middle');
  };
  head('WT', p.wtBr);
  head('dKO', p.koBr);
}

function drawGsea(svg: Sel, defs: Sel, p: any, colour: (v: number) => string) {
  const g = svg.append('g');
  const [fx0, fy0, fx1, fy1] = p.frame;
  const [, barBottom, stripBottom] = p.barY;
  const x = d3.scaleLinear().domain([0, 100]).range(p.rankX);
  const y = d3.scaleLinear().domain(p.es).range(p.esY);

  // frame and grid
  g.append('rect').attr('x', fx0).attr('y', fy0).attr('width', fx1 - fx0).attr('height', stripBottom - fy0)
    .attr('fill', 'white').attr('stroke', '#dcdcdc').attr('stroke-width', 1);
  [25, 50, 75].forEach(r => {
    g.append('line').attr('x1', x(r)).attr('x2', x(r)).attr('y1', fy0).attr('y2', fy1).attr('stroke', '#f0f0f0').attr('stroke-width', .7);
  });
  g.append('g').selectAll('line').data(p.ticks as number[]).join('line')
    .attr('x1', fx0).attr('x2', fx1)
    .attr('y1', d => y(d)).attr('y2', d => y(d))
    .attr('stroke', d => (d === 0 ? '#cfcfcf' : '#f0f0f0'))
    .attr('stroke-width', d => (d === 0 ? 1 : .7));
  g.append('line').attr('x1', fx0).attr('x2', fx1).attr('y1', fy1).attr('y2', fy1).attr('stroke', '#e4e4e4');

  // y ticks
  g.append('g').selectAll('text').data(p.ticks as number[]).join('text')
    .attr('x', fx0 - 3)
    .attr('y', d => y(d) + 2.3)
    .attr('text-anchor', 'end')
    .attr('font-size', 6.5)
    .attr('fill', '#333')
    .text(d => d3.format('.1f')(d));

  g.append('text')
    .attr('transform', `translate(${p.labelX},${p.labelY}) rotate(-90)`)
    .attr('text-anchor', 'middle')
    .attr('font-size', 8.5)
    .attr('fill', '#333')
    .text('Enrichment score');

  // barcode
  g.append('g').selectAll('line').data(p.hits as number[]).join('line')
    .attr('x1', d => x(d)).attr('x2', d => x(d))
    .attr('y1', p.barY[0]).attr('y2', barBottom)
    .attr('stroke', '#111')
    .attr('stroke-opacity', .72)
    .attr('stroke-width', 1.25);

  // ranking strip
  const grad = defs.append('linearGradient').attr('id', `strip-${p.id}`);
  stripStops.forEach(([o, c]) => grad.append('stop').attr('offset', o as number).attr('stop-color', c as string));
  g.append('rect').attr('x', p.rankX[0]).attr('y', barBottom).attr('width', p.rankX[1] - p.rankX[0]).attr('height', stripBottom - barBottom)
    .attr('fill', `url(#strip-${p.id})`);

  // running score
  const line = d3.line<number[]>().x(d => x(d[0])).y(d => y(d[1])).curve(d3.curveMonotoneX);
  g.append('path').attr('d', line(p.curve)!).attr('fill', 'none').attr('stroke', '#2ee82e').attr('stroke-width', 1.1);

  // leading edge box and arrow
  const [bx0, by0, bx1, by1] = p.box;
  g.append('rect').attr('x', bx0).attr('y', by0).attr('width', bx1 - bx0).attr('height', by1 - by0)
    .attr('fill', 'none').attr('stroke', p.boxColor).attr('stroke-width', 1);
  const [ax0, ax1, ay] = p.arrow;
  g.append('line').attr('x1', ax0).attr('x2', ax1 - 2).attr('y1', ay).attr('y2', ay).attr('stroke', p.boxColor).attr('stroke-width', .9);
  g.append('path').attr('d', `M${ax1},${ay}L${ax1 - 4.5},${ay - 2.8}L${ax1 - 3},${ay}L${ax1 - 4.5},${ay + 2.8}Z`).attr('fill', p.boxColor);

  // phenotype labels
  const cd8 = (tx: number, ty: number, fill: string) => {
    const t = label(g, tx, ty, 'CD8', 7.3, fill);
    t.append('tspan').attr('font-size', 4.5).attr('dy', -2.5).text('+');
  };
  label(g, p.dkoX, p.dkoY, 'dKO', 7.3, '#ff4040');
  cd8(p.dkoX, p.dkoY + 8.3, '#ff4040');
  label(g, p.wtX, p.dkoY, 'WT', 7.3, '#4455ff');
  cd8(p.wtX, p.dkoY + 8.3, '#4455ff');

  label(g, p.titleX, p.titleY, p.title, 9.5, '#333', 'middle');
  (p.stats as string[]).forEach((s, i) => label(g, p.nesX, p.nesY + i * 11.4, s, 9.4, '#222'));

  drawHeat(g, p, colour);
}

function draw(node: SVGSVGElement) {
  const svg: Sel = d3.select(node);
  svg.selectAll('*').remove();
  svg.attr('font-family', FONT);
  const defs = svg.append('defs');

  label(svg, 0, 18.2, 'a', 20, '#111');
  label(svg, 328, 18.2, 'b', 20, '#111');
  label(svg, 1, 207, 'c', 23, '#111');
  label(svg, 2, 425, 'd', 23, '#111');

  drawImmunity(svg);
  drawExpression(svg);

  const colour = d3.scaleLinear<string>().domain([-1.5, 0, 1.5]).range(['#0000ff', '#ffffff', '#ff0000']);
  gseaPanels.forEach(p => drawGsea(svg, defs, p, colour));

  // shared colour key of the gene heatmaps
  const key = d3.scaleLinear().domain([-1.5, 1.5]).range([932, 820]);
  const grad = defs.append('linearGradient').attr('id', 'heat-key').attr('x1', 0).attr('x2', 0).attr('y1', 1).attr('y2', 0);
  [-1.5, 0, 1.5].forEach(v => grad.append('stop').attr('offset', (v + 1.5) / 3).attr('stop-color', colour(v)));
  svg.append('rect').attr('x', 613).attr('y', 819).attr('width', 8).attr('height', 113).attr('fill', 'url(#heat-key)');
  const axis = svg.append('g').attr('transform', 'translate(621,0)')
    .call(d3.axisRight(key).tickValues(heatTicks).tickSize(2).tickFormat(d => d3.format('.1f')(+d)) as any);
  axis.select('.domain').remove();
  axis.selectAll('line').attr('stroke', '#555');
  axis.selectAll('text').attr('font-size', 8).attr('font-family', FONT).attr('fill', '#333').attr('x', 4);
  axis.selectAll('text').filter(d => d === 0).text('0');
  axis.selectAll('text').filter(d => d === -1.5).attr('dy', '.05em');
}

export default function App() {
  const ref = useRef<SVGSVGElement>(null);

  useEffect(() => {
    if (ref.current) draw(ref.current);
  }, []);

  return (
    <svg
      ref={ref}
      width={689}
      height={935}
      viewBox="0 0 689 935"
      style={{ position: 'absolute', left: 0, top: 0, background: 'white' }}
    />
  );
}
